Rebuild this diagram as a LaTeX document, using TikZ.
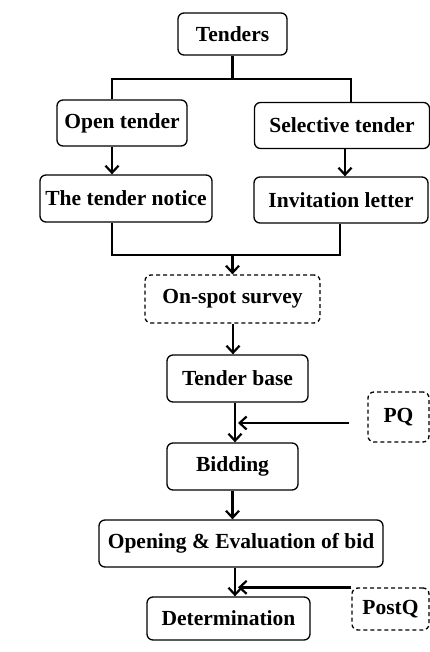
\documentclass[tikz,border=0pt]{standalone}
\usepackage{fontspec}
\setmainfont{Liberation Serif}
\usetikzlibrary{arrows.meta,calc}
\begin{document}
\begin{tikzpicture}[x=1pt,y=-1pt,
  box/.style={draw,line width=1.3pt,rounded corners=6pt,inner sep=0pt,font=\fontsize{21.5}{23}\selectfont\bfseries},
  dbox/.style={box,dashed,dash pattern=on 4pt off 3pt},
  conn/.style={line width=2.4pt},
  arr/.style={line width=2.4pt,-{Straight Barb[length=7pt,width=13pt,line width=2.2pt]}}]
\useasboundingbox (0,0) rectangle (430,652);
\node[box,minimum width=109pt,minimum height=42pt] (tenders) at (232.5,34) {Tenders};
\node[box,minimum width=130pt,minimum height=46pt] (open) at (122,123) {Open tender};
\node[box,minimum width=175pt,minimum height=46pt] (sel) at (342,125.5) {Selective tender};
\node[box,minimum width=172pt,minimum height=47pt] (notice) at (126,198.5) {The tender notice};
\node[box,minimum width=174pt,minimum height=46pt] (invite) at (341,200) {Invitation letter};
\node[dbox,minimum width=175pt,minimum height=48pt] (survey) at (232.5,299) {On-spot survey};
\node[box,minimum width=141pt,minimum height=47pt] (base) at (237.5,378.5) {Tender base};
\node[dbox,minimum width=61pt,minimum height=50pt] (pq) at (398.5,417) {PQ};
\node[box,minimum width=131pt,minimum height=47pt] (bidding) at (232.5,466.5) {Bidding};
\node[box,minimum width=284pt,minimum height=47pt] (opening) at (241,543.5) {Opening \& Evaluation of bid};
\node[box,minimum width=163pt,minimum height=43pt] (det) at (228.5,618.5) {Determination};
\node[dbox,minimum width=77pt,minimum height=42pt] (postq) at (390.5,609) {PostQ};
% top tree
\coordinate (t1) at (112,79);
\coordinate (t2) at (351,79);
\draw[conn] (tenders.south) -- (tenders.south |- t1);
\draw[conn] (t1 |- open.north) -- (t1) -- (t2) -- (t2 |- sel.north);
\draw[arr] (open.south -| t1) -- (notice.north -| t1);
\coordinate (s1) at (345,0);
\draw[arr] (sel.south -| s1) -- (invite.north -| s1);
% merge
\coordinate (b1) at (112,255);
\coordinate (b2) at (340,255);
\coordinate (bm) at (232.5,255);
\draw[conn] (notice.south -| b1) -- (b1) -- (b2) -- (b2 |- invite.south);
\draw[arr] (bm) -- (survey.north -| bm);
% chain
\coordinate (c1) at (233,0);
\draw[arr] (survey.south -| c1) -- (base.north -| c1);
\coordinate (c2) at (235,0);
\draw[arr] (base.south -| c2) -- (bidding.north -| c2);
\coordinate (j) at (238,0);
\coordinate (pqa) at ($(pq.west)+(0,6)$);
\draw[arr,shorten <=18pt] (pqa) -- (pqa -| j);
\coordinate (c3) at (232.5,0);
\draw[arr] (bidding.south -| c3) -- (opening.north -| c3);
\coordinate (c4) at (235,0);
\draw[arr] (opening.south -| c4) -- (det.north -| c4);
\draw[arr] (postq.north west) -- (postq.north west -| j);
\end{tikzpicture}
\end{document}
